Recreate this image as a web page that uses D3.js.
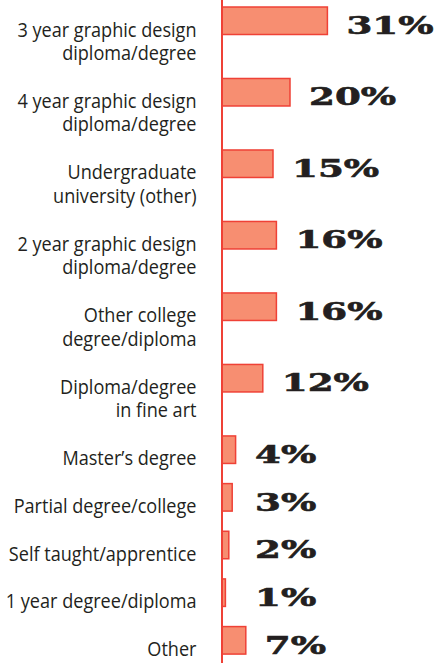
<!DOCTYPE html>
<html>
<head>
<meta charset="utf-8">
<script src="https://cdn.jsdelivr.net/npm/d3@7"></script>
<style>
  body { margin: 0; background: #fff; }
  svg { display: block; }
</style>
</head>
<body>
<svg></svg>
<script>
// categories (each label split into its printed lines)
const categories = [
    ["3 year graphic design", "diploma/degree"],
    ["4 year graphic design", "diploma/degree"],
    ["Undergraduate", "university (other)"],
    ["2 year graphic design", "diploma/degree"],
    ["Other college", "degree/diploma"],
    ["Diploma/degree", "in fine art"],
    ["Master\u2019s degree"],
    ["Partial degree/college"],
    ["Self taught/apprentice"],
    ["1 year degree/diploma"],
    ["Other"]
];
const values = [31, 20, 15, 16, 16, 12, 4, 3, 2, 1, 7];

const width = 439, height = 663;
const axisX = 222;

const svg = d3.select("svg")
    .attr("width", width)
    .attr("height", height);

// two-line rows take 3 units of height, one-line rows 2
const units = categories.map(c => c.length === 2 ? 3 : 2);
const offsets = d3.cumsum([0].concat(units));
const totalUnits = offsets[offsets.length - 1];

const y = d3.scaleLinear()
    .domain([0, totalUnits])
    .range([7, 7 + totalUnits * 23.83]);

const x = d3.scaleLinear()
    .domain([0, 31])
    .range([axisX, 327.4]);

const barH = 27.5;

const rows = svg.selectAll(".row")
    .data(values)
    .enter().append("g")
    .attr("class", "row");

// bars
rows.append("rect")
    .attr("x", axisX)
    .attr("y", (d, i) => y(offsets[i]))
    .attr("width", d => x(d) - axisX)
    .attr("height", barH)
    .attr("fill", "#f78e71")
    .attr("stroke", "#ef4136")
    .attr("stroke-width", 1.5);

// category labels, right aligned (condensed look), one text per label
const labelScale = 0.905;
rows.append("text")
    .attr("transform", (d, i) => `translate(196.5, ${y(offsets[i]) + 29.5}) scale(${labelScale},1)`)
    .attr("text-anchor", "end")
    .style("font-family", "'Open Sans', sans-serif")
    .style("font-size", "20px")
    .style("fill", "#231f20")
    .each(function(d, i) {
        const t = d3.select(this);
        categories[i].forEach((line, j) => {
            t.append("tspan")
                .attr("x", 0)
                .attr("y", j * 23.5)
                .text(line);
        });
    });

// percentage values
rows.append("text")
    .attr("transform", (d, i) => {
        const tx = Math.max(x(d) + 19, 255);
        const ty = y(offsets[i]) + barH - 0.5;
        return `translate(${tx}, ${ty}) scale(1.55,1)`;
    })
    .style("font-family", "'DejaVu Serif', serif")
    .style("font-weight", "bold")
    .style("font-size", "24px")
    .style("fill", "#231f20")
    .style("stroke", "#231f20")
    .style("stroke-width", 0.6)
    .text(d => d + "%");

// vertical axis line
svg.append("line")
    .attr("x1", axisX)
    .attr("x2", axisX)
    .attr("y1", 0)
    .attr("y2", height)
    .attr("stroke", "#ef4136")
    .attr("stroke-width", 2);
</script>
</body>
</html>
